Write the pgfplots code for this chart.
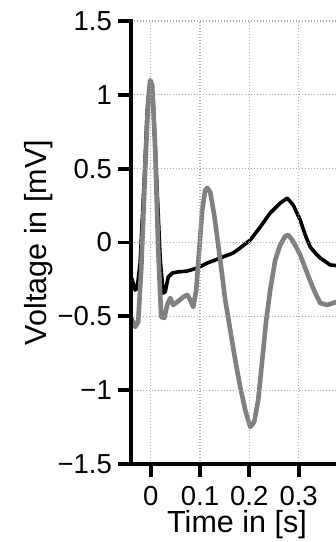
\documentclass[border=0pt]{standalone}
\usepackage{fontspec}
\setmainfont{Liberation Sans}
\usepackage{pgfplots}
\pgfplotsset{compat=1.18}
\begin{document}
\begin{tikzpicture}
\path[use as bounding box, clip] (-131pt,-78pt) rectangle (205pt,464pt);
\begin{axis}[
  scale only axis,
  width=212pt, height=443pt,
  xmin=-0.04, xmax=0.39,
  ymin=-1.5, ymax=1.5,
  axis x line*=bottom, axis y line*=left,
  axis line style={-, line width=3.8pt, black, line cap=rect},
  tick align=outside,
  major tick length=13pt,
  tick style={line width=3.8pt, black},
  xtick={0,0.1,0.2,0.3}, xticklabels={0,0.1,0.2,0.3},
  ytick={-1.5,-1,-0.5,0,0.5,1,1.5},
  yticklabels={−1.5,−1,−0.5,0,0.5,1,1.5},
  grid=major,
  major grid style={gray!65, line width=1.3pt, dash pattern=on 1.2pt off 1.8pt},
  axis on top,
  ticklabel style={font=\fontsize{27.5}{27.5}\selectfont},
  yticklabel style={inner sep=0pt, xshift=-6pt},
  xticklabel style={inner sep=0pt, yshift=-9pt},
  xlabel={Time in [s]}, ylabel={Voltage in [mV]},
  label style={font=\fontsize{30.5}{30.5}\selectfont},
  xlabel style={inner sep=0pt, yshift=-5pt},
  ylabel style={inner sep=4pt},
  clip=true,
]
\addplot[black, line width=3.6pt, line join=round] coordinates {
(-0.0396,-0.234) (-0.0355,-0.274) (-0.0314,-0.322) (-0.0274,-0.308)
(-0.0213,-0.132) (-0.0132,0.423) (-0.0071,0.897) (-0.001,1.087)
(0.005,0.965) (0.0112,0.491) (0.0193,-0.118) (0.0254,-0.342)
(0.0294,-0.335) (0.0355,-0.234) (0.0436,-0.207) (0.0538,-0.200)
(0.0740,-0.193) (0.0943,-0.173) (0.1146,-0.139) (0.1410,-0.105)
(0.1673,-0.071) (0.1815,-0.037) (0.2018,0.017) (0.2221,0.105)
(0.2424,0.200) (0.2627,0.267) (0.2769,0.301) (0.2890,0.254)
(0.3032,0.152) (0.3134,0.051) (0.3235,-0.030) (0.3337,-0.071)
(0.3438,-0.105) (0.3641,-0.152) (0.3844,-0.159) (0.3945,-0.159)
};
\addplot[gray, line width=4.6pt, line join=round] coordinates {
(-0.0396,-0.511) (-0.0355,-0.538) (-0.0314,-0.572) (-0.0254,-0.538)
(-0.0193,-0.186) (-0.0112,0.491) (-0.0051,0.965) (-0.001,1.100)
(0.003,1.066) (0.0091,0.626) (0.0152,-0.051) (0.0213,-0.504)
(0.0274,-0.511) (0.0335,-0.423) (0.0396,-0.376) (0.0456,-0.423)
(0.0538,-0.403) (0.0659,-0.369) (0.0740,-0.355) (0.0801,-0.389)
(0.0862,-0.437) (0.0923,-0.322) (0.0984,-0.051) (0.1045,0.220)
(0.1105,0.355) (0.1146,0.369) (0.1207,0.342) (0.1288,0.186)
(0.1410,-0.118) (0.1511,-0.389) (0.1613,-0.592) (0.1714,-0.796)
(0.1815,-0.978) (0.1917,-1.134) (0.2018,-1.249) (0.2099,-1.215)
(0.2181,-1.066) (0.2262,-0.796) (0.2343,-0.525) (0.2424,-0.322)
(0.2525,-0.118) (0.2627,-0.017) (0.2728,0.044) (0.2789,0.051)
(0.2870,0.017) (0.2951,-0.030) (0.3032,-0.085) (0.3134,-0.173)
(0.3235,-0.261) (0.3337,-0.342) (0.3438,-0.410) (0.3580,-0.423)
(0.3763,-0.403) (0.3945,-0.389)
};
\end{axis}
\end{tikzpicture}
\end{document}
